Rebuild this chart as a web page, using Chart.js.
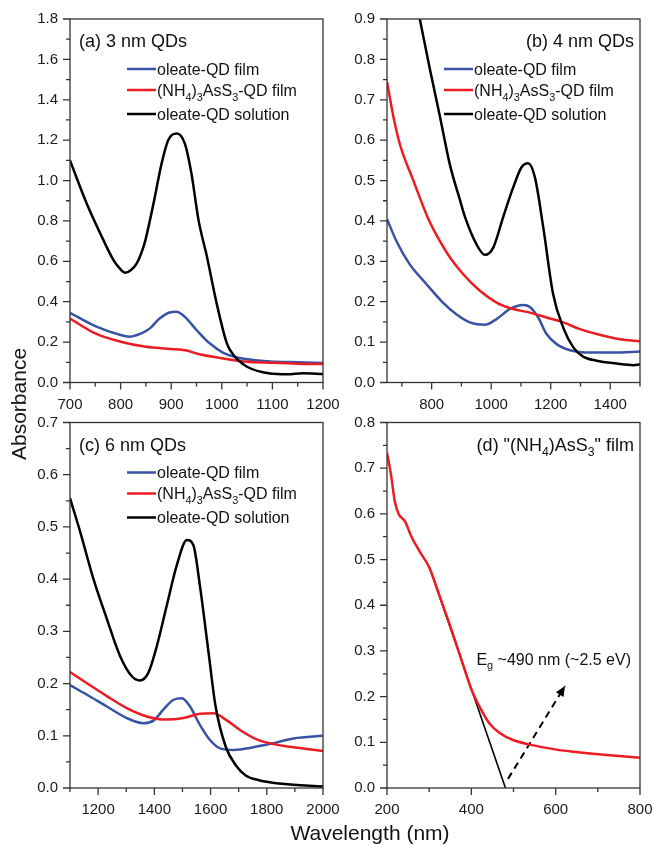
<!DOCTYPE html>
<html>
<head>
<meta charset="utf-8">
<script src="https://cdn.jsdelivr.net/npm/chart.js@4.4.1/dist/chart.umd.min.js"></script>
<style>
  html, body { margin: 0; padding: 0; background: #fff; }
  body { width: 654px; height: 846px; position: relative; overflow: hidden;
         font-family: "Liberation Sans", Arial, sans-serif; color: #111; }
  canvas { position: absolute; }
  #yTitle { position: absolute; left: 18.5px; top: 404px; font-size: 21px; white-space: nowrap;
            transform: translate(-50%, -50%) rotate(-90deg); }
  #xTitle { position: absolute; left: 370px; top: 822px; font-size: 21px; line-height: 21px;
            white-space: nowrap; transform: translateX(-50%); }
</style>
</head>
<body>
<canvas id="cA" width="353" height="412" style="left:0px;top:0px"></canvas>
<canvas id="cB" width="324" height="412" style="left:330px;top:0px"></canvas>
<canvas id="cC" width="353" height="425" style="left:0px;top:400px"></canvas>
<canvas id="cD" width="324" height="425" style="left:330px;top:400px"></canvas>
<div id="yTitle">Absorbance</div>
<div id="xTitle">Wavelength (nm)</div>
<script>
const blue = '#3953a4', red = '#ed1c24', black = '#000000';
const legendNames = ['oleate-QD film', '(NH_4)_3AsS_3-QD film', 'oleate-QD solution'];

// (a) 3 nm QDs
const aXTicks = [700, 800, 900, 1000, 1100, 1200];
const aYTicks = [0, 0.2, 0.4, 0.6, 0.8, 1.0, 1.2, 1.4, 1.6, 1.8];
const aFilmWl = [700, 750, 800, 818, 841, 858, 877, 897, 910, 927, 950, 976, 1003, 1029, 1062, 1095, 1150, 1200];
const aFilmAbs = [0.345, 0.279, 0.235, 0.227, 0.243, 0.268, 0.317, 0.347, 0.35, 0.325, 0.26, 0.194, 0.147, 0.125, 0.111, 0.104, 0.1, 0.097];
const aAsWl = [700, 750, 800, 850, 900, 930, 950, 1000, 1050, 1095, 1150, 1200];
const aAsAbs = [0.317, 0.243, 0.202, 0.177, 0.166, 0.158, 0.144, 0.12, 0.103, 0.098, 0.093, 0.091];
const aSolWl = [700, 733, 766, 786, 800, 809, 820, 832, 845, 850, 865, 881, 894, 911, 927, 940, 954, 970, 990, 1010, 1023, 1050, 1095, 1130, 1160, 1200];
const aSolAbs = [1.10, 0.886, 0.705, 0.606, 0.56, 0.543, 0.556, 0.59, 0.67, 0.715, 0.886, 1.084, 1.2, 1.233, 1.183, 1.035, 0.804, 0.63, 0.39, 0.194, 0.136, 0.078, 0.045, 0.041, 0.046, 0.042];

// (b) 4 nm QDs
const bXTicks = [800, 1000, 1200, 1400];
const bYTicks = [0, 0.1, 0.2, 0.3, 0.4, 0.5, 0.6, 0.7, 0.8, 0.9];
const bFilmWl = [650, 681, 726, 782, 838, 883, 928, 979, 1018, 1063, 1107, 1130, 1158, 1186, 1220, 1265, 1332, 1410, 1500];
const bFilmAbs = [0.405, 0.351, 0.293, 0.244, 0.198, 0.169, 0.149, 0.143, 0.157, 0.182, 0.192, 0.187, 0.161, 0.12, 0.095, 0.08, 0.074, 0.074, 0.077];
const bAsWl = [650, 671, 694, 738, 789, 827, 861, 906, 962, 1018, 1074, 1130, 1186, 1242, 1298, 1354, 1433, 1500];
const bAsAbs = [0.745, 0.66, 0.588, 0.501, 0.405, 0.351, 0.31, 0.268, 0.227, 0.198, 0.182, 0.173, 0.161, 0.149, 0.132, 0.12, 0.107, 0.102];
const bSolWl = [740, 761, 794, 828, 861, 895, 912, 950, 979, 1007, 1040, 1074, 1102, 1124, 1147, 1175, 1208, 1242, 1276, 1309, 1354, 1421, 1478, 1500];
const bSolAbs = [0.97, 0.897, 0.776, 0.658, 0.54, 0.452, 0.41, 0.343, 0.316, 0.334, 0.409, 0.483, 0.533, 0.543, 0.508, 0.384, 0.219, 0.136, 0.087, 0.064, 0.054, 0.047, 0.043, 0.045];

// (c) 6 nm QDs
const cXTicks = [1200, 1400, 1600, 1800, 2000];
const cYTicks = [0, 0.1, 0.2, 0.3, 0.4, 0.5, 0.6, 0.7];
const cFilmWl = [1100, 1159, 1231, 1302, 1361, 1397, 1432, 1468, 1498, 1527, 1562, 1598, 1634, 1682, 1753, 1824, 1895, 2000];
const cFilmAbs = [0.197, 0.179, 0.156, 0.134, 0.124, 0.129, 0.15, 0.169, 0.172, 0.156, 0.121, 0.092, 0.076, 0.073, 0.078, 0.086, 0.095, 0.1];
const cAsWl = [1100, 1159, 1231, 1302, 1373, 1444, 1504, 1562, 1610, 1654, 1705, 1764, 1824, 1895, 2000];
const cAsAbs = [0.222, 0.201, 0.176, 0.153, 0.137, 0.131, 0.134, 0.142, 0.143, 0.131, 0.111, 0.093, 0.084, 0.078, 0.071];
const cSolWl = [1100, 1136, 1183, 1231, 1278, 1320, 1349, 1379, 1409, 1444, 1480, 1516, 1539, 1562, 1593, 1618, 1654, 1689, 1725, 1772, 1855, 2000];
const cSolAbs = [0.555, 0.491, 0.401, 0.324, 0.253, 0.214, 0.206, 0.221, 0.272, 0.349, 0.427, 0.475, 0.465, 0.388, 0.259, 0.156, 0.079, 0.044, 0.024, 0.015, 0.008, 0.003];

// (d) "(NH4)AsS3" film
const dXTicks = [200, 400, 600, 800];
const dYTicks = [0, 0.1, 0.2, 0.3, 0.4, 0.5, 0.6, 0.7, 0.8];
const dFilmWl = [200, 206, 211, 218, 227, 243, 258, 278, 300, 325, 349, 373, 400, 420, 444, 468, 499, 539, 602, 665, 736, 800];
const dFilmAbs = [0.734, 0.705, 0.676, 0.63, 0.601, 0.583, 0.55, 0.517, 0.483, 0.42, 0.357, 0.291, 0.216, 0.177, 0.14, 0.12, 0.105, 0.095, 0.084, 0.077, 0.071, 0.066];
const dFitWl = [300, 481];
const dFitAbs = [0.485, 0];
const dArrowWl = [487, 622];
const dArrowAbs = [0.02, 0.223];

const FAM = "'Liberation Sans', Arial, sans-serif";
Chart.defaults.font.family = FAM;

function pts(wl, abs) {
  return wl.map((w, i) => ({ x: w, y: abs[i] }));
}

function curve(wl, abs, color) {
  return { data: pts(wl, abs), borderColor: color, borderWidth: 2.5, pointRadius: 0,
           cubicInterpolationMode: 'monotone', fill: false };
}

// text with one-character subscripts written as _x
function drawRich(ctx, str, x, y, size, align) {
  const segs = [];
  let buf = '';
  for (let i = 0; i < str.length; i++) {
    if (str[i] === '_' && i + 1 < str.length) {
      if (buf) segs.push({ t: buf, sub: false });
      buf = '';
      segs.push({ t: str[i + 1], sub: true });
      i++;
    } else buf += str[i];
  }
  if (buf) segs.push({ t: buf, sub: false });
  let w = 0;
  segs.forEach(s => {
    ctx.font = (s.sub ? size * 0.68 : size) + 'px ' + FAM;
    s.w = ctx.measureText(s.t).width;
    w += s.w;
  });
  let cx = align === 'right' ? x - w : x;
  ctx.textAlign = 'left';
  ctx.textBaseline = 'alphabetic';
  ctx.fillStyle = '#111';
  segs.forEach(s => {
    ctx.font = (s.sub ? size * 0.68 : size) + 'px ' + FAM;
    ctx.fillText(s.t, cx, s.sub ? y + size * 0.3 : y);
    cx += s.w;
  });
}

function minorsOf(major, min, max) {
  const step = major[1] - major[0];
  const out = [];
  for (let i = -1; i < major.length; i++) {
    const v = (i < 0 ? major[0] - step / 2 : major[i] + step / 2);
    if (v >= min - 1e-9 && v <= max + 1e-9) out.push(v);
  }
  return out;
}

function makePanel(id, p) {
  const cv = document.getElementById(id);
  const cLeft = parseFloat(cv.style.left), cTop = parseFloat(cv.style.top);
  const yWidth = p.L - cLeft;
  const xHeight = cTop + cv.height - p.B;

  const decor = {
    id: 'decor',
    afterDatasetsDraw(chart) {
      const ctx = chart.ctx, a = chart.chartArea;
      const xs = chart.scales.x, ys = chart.scales.y;
      ctx.save();
      ctx.strokeStyle = '#333';
      ctx.lineWidth = 1.3;
      ctx.strokeRect(a.left, a.top, a.right - a.left, a.bottom - a.top);
      ctx.beginPath();
      p.xTicks.forEach(v => { const px = xs.getPixelForValue(v); ctx.moveTo(px, a.bottom); ctx.lineTo(px, a.bottom + 7); });
      minorsOf(p.xTicks, p.xMin, p.xMax).forEach(v => { const px = xs.getPixelForValue(v); ctx.moveTo(px, a.bottom); ctx.lineTo(px, a.bottom + 4); });
      p.yTicks.forEach(v => { const py = ys.getPixelForValue(v); ctx.moveTo(a.left, py); ctx.lineTo(a.left - 7, py); });
      minorsOf(p.yTicks, 0, p.yMax).forEach(v => { const py = ys.getPixelForValue(v); ctx.moveTo(a.left, py); ctx.lineTo(a.left - 4, py); });
      ctx.stroke();

      // panel title
      if (p.titleAlign === 'right') drawRich(ctx, p.title, a.right - 6, a.top + 28, 18, 'right');
      else drawRich(ctx, p.title, a.left + 9, a.top + 28, 18, 'left');

      // legend
      if (p.legend) {
        const rows = [50, 71, 95];
        const cols = [blue, red, black];
        rows.forEach((r, i) => {
          const y = a.top + r;
          ctx.strokeStyle = cols[i];
          ctx.lineWidth = 2.5;
          ctx.beginPath();
          ctx.moveTo(a.left + 57, y);
          ctx.lineTo(a.left + 86, y);
          ctx.stroke();
          drawRich(ctx, legendNames[i], a.left + 87, y + 5.8, 16, 'left');
        });
      }

      // band gap note and arrow head
      if (p.note) {
        drawRich(ctx, p.note.text, xs.getPixelForValue(p.note.x), ys.getPixelForValue(p.note.y), 16, 'left');
        const x0 = xs.getPixelForValue(dArrowWl[0]), y0 = ys.getPixelForValue(dArrowAbs[0]);
        const x1 = xs.getPixelForValue(dArrowWl[1]), y1 = ys.getPixelForValue(dArrowAbs[1]);
        const ang = Math.atan2(y1 - y0, x1 - x0);
        ctx.fillStyle = '#000';
        ctx.beginPath();
        ctx.moveTo(x1, y1);
        ctx.lineTo(x1 - 10 * Math.cos(ang) + 4.5 * Math.sin(ang), y1 - 10 * Math.sin(ang) - 4.5 * Math.cos(ang));
        ctx.lineTo(x1 - 10 * Math.cos(ang) - 4.5 * Math.sin(ang), y1 - 10 * Math.sin(ang) + 4.5 * Math.cos(ang));
        ctx.closePath();
        ctx.fill();
      }
      ctx.restore();
    }
  };

  return new Chart(cv.getContext('2d'), {
    type: 'line',
    data: { datasets: p.datasets },
    options: {
      responsive: false,
      animation: false,
      layout: { padding: { left: 0, top: p.T - cTop, right: cLeft + cv.width - p.R, bottom: 0 } },
      plugins: { legend: { display: false }, tooltip: { enabled: false } },
      scales: {
        x: {
          type: 'linear', min: p.xMin, max: p.xMax,
          grid: { drawOnChartArea: false, drawTicks: true, tickLength: 13, tickColor: 'rgba(0,0,0,0)' },
          border: { display: false },
          ticks: { padding: 0, autoSkip: false, maxRotation: 0, color: '#1a1a1a', font: { size: 15 },
                   callback: v => String(v) },
          afterBuildTicks: s => { s.ticks = p.xTicks.map(v => ({ value: v })); },
          afterFit: s => { s.height = xHeight; }
        },
        y: {
          type: 'linear', min: 0, max: p.yMax,
          grid: { drawOnChartArea: false, drawTicks: true, tickLength: 12, tickColor: 'rgba(0,0,0,0)' },
          border: { display: false },
          ticks: { padding: 0, autoSkip: false, color: '#1a1a1a', font: { size: 15 },
                   callback: v => Number(v).toFixed(1) },
          afterBuildTicks: s => { s.ticks = p.yTicks.map(v => ({ value: v })); },
          afterFit: s => { s.width = yWidth; }
        }
      }
    },
    plugins: [decor]
  });
}

makePanel('cA', {
  L: 70, R: 323, T: 19, B: 382.5, xMin: 700, xMax: 1200, yMax: 1.8,
  xTicks: aXTicks, yTicks: aYTicks, title: '(a) 3 nm QDs', legend: true,
  datasets: [curve(aSolWl, aSolAbs, black), curve(aAsWl, aAsAbs, red), curve(aFilmWl, aFilmAbs, blue)]
});
makePanel('cB', {
  L: 387, R: 640, T: 19, B: 382.5, xMin: 650, xMax: 1500, yMax: 0.9,
  xTicks: bXTicks, yTicks: bYTicks, title: '(b) 4 nm QDs', titleAlign: 'right', legend: true,
  datasets: [curve(bSolWl, bSolAbs, black), curve(bAsWl, bAsAbs, red), curve(bFilmWl, bFilmAbs, blue)]
});
makePanel('cC', {
  L: 70, R: 323, T: 422.5, B: 788, xMin: 1100, xMax: 2000, yMax: 0.7,
  xTicks: cXTicks, yTicks: cYTicks, title: '(c) 6 nm QDs', legend: true,
  datasets: [curve(cSolWl, cSolAbs, black), curve(cAsWl, cAsAbs, red), curve(cFilmWl, cFilmAbs, blue)]
});
makePanel('cD', {
  L: 387, R: 640, T: 422.5, B: 788, xMin: 200, xMax: 800, yMax: 0.8,
  xTicks: dXTicks, yTicks: dYTicks, title: '(d) "(NH_4)AsS_3" film', titleAlign: 'right',
  note: { text: 'E_g ~490 nm (~2.5 eV)', x: 412, y: 0.27 },
  datasets: [
    curve(dFilmWl, dFilmAbs, red),
    { data: pts(dFitWl, dFitAbs), borderColor: black, borderWidth: 1.6, pointRadius: 0, fill: false },
    { data: pts(dArrowWl, dArrowAbs), borderColor: black, borderWidth: 2, borderDash: [7, 5], pointRadius: 0, fill: false }
  ]
});
</script>
</body>
</html>
